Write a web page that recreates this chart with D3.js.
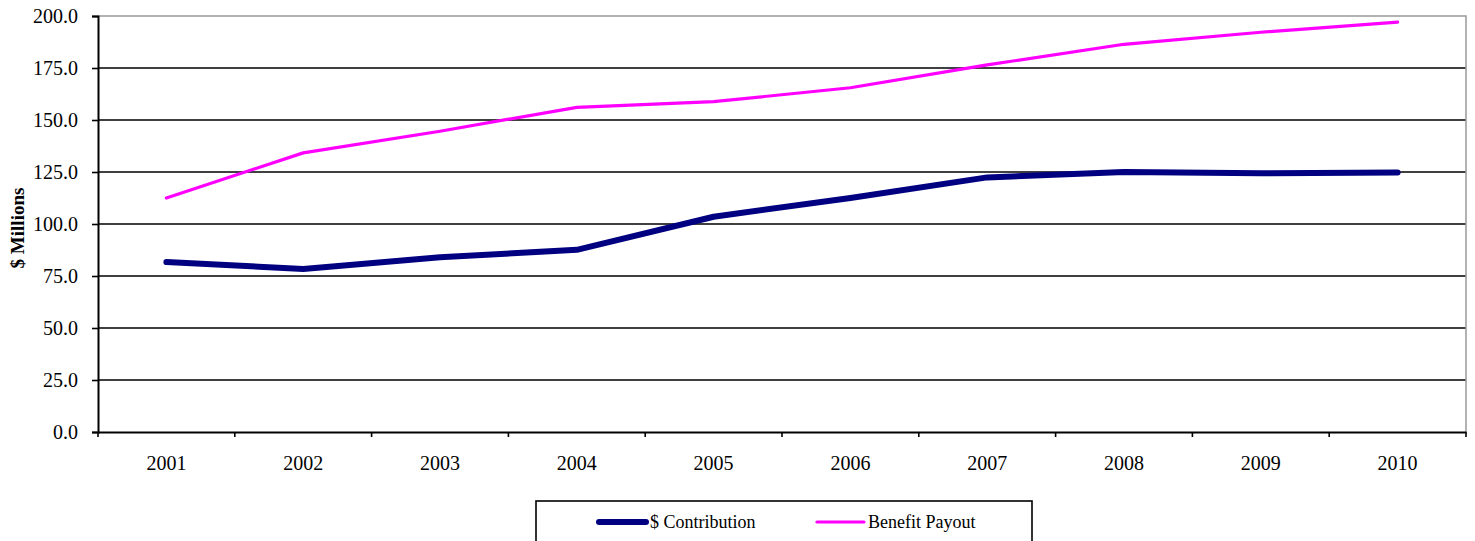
<!DOCTYPE html>
<html>
<head>
<meta charset="utf-8">
<script src="https://cdn.jsdelivr.net/npm/d3@7"></script>
<style>
  html, body { margin: 0; padding: 0; background: #fff; }
  svg { display: block; }
  text { font-family: "Liberation Serif", "Times New Roman", serif; fill: #000; }
</style>
</head>
<body>
<svg id="chart" width="1475" height="541"></svg>
<script>
// Annual figures, $ millions
const years = ["2001", "2002", "2003", "2004", "2005", "2006", "2007", "2008", "2009", "2010"];
const contribution = [81.7, 78.4, 84.0, 87.6, 103.5, 112.5, 122.4, 125.0, 124.4, 124.8];
const benefitPayout = [112.5, 134.2, 144.6, 156.1, 158.8, 165.5, 176.5, 186.4, 192.2, 197.1];
const yTicks = [0, 25, 50, 75, 100, 125, 150, 175, 200];
const seriesNames = ["$ Contribution", "Benefit Payout"];

const svg = d3.select("#chart");
const plot = { left: 98, right: 1466, top: 16, bottom: 432 };

const x = d3.scaleBand().domain(years).range([plot.left, plot.right]).padding(0);
const y = d3.scaleLinear().domain([0, 200]).range([plot.bottom, plot.top]);

// Horizontal gridlines
svg.append("g")
  .selectAll("line")
  .data(yTicks.filter(v => v > 0 && v < 200))
  .join("line")
  .attr("x1", plot.left).attr("x2", plot.right)
  .attr("y1", d => y(d)).attr("y2", d => y(d))
  .attr("stroke", "#000").attr("stroke-width", 1.6);

// Plot frame (top and right edges)
svg.append("path")
  .attr("d", `M${plot.left},${plot.top}H${plot.right}V${plot.bottom}`)
  .attr("fill", "none").attr("stroke", "#999").attr("stroke-width", 1.5);

// Y axis
const yAxis = svg.append("g")
  .attr("transform", `translate(${plot.left},0)`)
  .call(d3.axisLeft(y).tickValues(yTicks).tickFormat(d3.format(".1f")).tickSize(6).tickPadding(14));
yAxis.select(".domain").attr("stroke", "#000").attr("stroke-width", 2);
yAxis.selectAll(".tick line").attr("stroke", "#000").attr("stroke-width", 1.6);
yAxis.selectAll(".tick text").attr("font-size", 20).attr("font-family", "Liberation Serif").attr("fill", "#000");

// X axis: ticks sit on category boundaries
const xAxis = svg.append("g")
  .attr("transform", `translate(0,${plot.bottom})`)
  .call(d3.axisBottom(x).tickSize(0).tickPadding(24));
xAxis.select(".domain").attr("stroke", "#000").attr("stroke-width", 2);
xAxis.selectAll(".tick text").attr("font-size", 20).attr("font-family", "Liberation Serif").attr("fill", "#000");
svg.append("g")
  .selectAll("line")
  .data(years.map(d => x(d)).concat([plot.right]))
  .join("line")
  .attr("x1", d => d).attr("x2", d => d)
  .attr("y1", plot.bottom).attr("y2", plot.bottom + 5)
  .attr("stroke", "#000").attr("stroke-width", 1.6);

// Y axis title
svg.append("text")
  .attr("transform", `translate(24,${(plot.top + plot.bottom) / 2 + 4}) rotate(-90)`)
  .attr("text-anchor", "middle")
  .attr("font-size", 19).attr("font-weight", "bold")
  .text("$ Millions");

// Lines
const cx = d => x(d) + x.bandwidth() / 2;
const line = d3.line().x((v, i) => cx(years[i])).y(v => y(v));

svg.append("path")
  .datum(benefitPayout)
  .attr("d", line)
  .attr("fill", "none").attr("stroke", "#ff00ff").attr("stroke-width", 3.2)
  .attr("stroke-linecap", "round").attr("stroke-linejoin", "round");

svg.append("path")
  .datum(contribution)
  .attr("d", line)
  .attr("fill", "none").attr("stroke", "#000080").attr("stroke-width", 6)
  .attr("stroke-linecap", "round").attr("stroke-linejoin", "round");

// Legend
const legend = svg.append("g");
legend.append("rect")
  .attr("x", 536).attr("y", 501).attr("width", 496).attr("height", 50)
  .attr("fill", "#fff").attr("stroke", "#000").attr("stroke-width", 1.6);

const legendItems = [
  { name: seriesNames[0], color: "#000080", width: 6, x0: 599 },
  { name: seriesNames[1], color: "#ff00ff", width: 3.2, x0: 817 }
];
legendItems.forEach(it => {
  legend.append("line")
    .attr("x1", it.x0).attr("x2", it.x0 + 47)
    .attr("y1", 522).attr("y2", 522)
    .attr("stroke", it.color).attr("stroke-width", it.width)
    .attr("stroke-linecap", "round");
  legend.append("text")
    .attr("x", it.x0 + 51).attr("y", 528)
    .attr("font-size", 18)
    .text(it.name);
});
</script>
</body>
</html>
